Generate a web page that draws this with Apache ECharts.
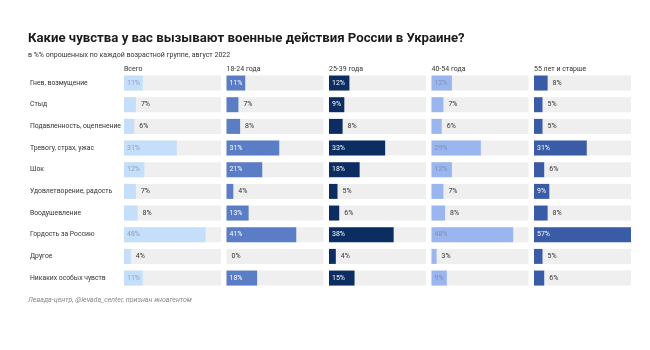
<!DOCTYPE html>
<html><head><meta charset="utf-8">
<script src="https://cdn.jsdelivr.net/npm/echarts@6/dist/echarts.min.js"></script>
<style>html,body{margin:0;padding:0;background:#fff}#c{width:650px;height:350px}</style>
</head><body><div id="c"></div>
<script>
const categories = ['Гнев, возмущение','Стыд','Подавленность, оцепенение','Тревогу, страх, ужас','Шок','Удовлетворение, радость','Воодушевление','Гордость за Россию','Другое','Никаких особых чувств'];
const groups = ['Всего','18-24 года','25-39 года','40-54 года','55 лет и старше'];
const vAll   = [11,7,6,31,12,7,8,48,4,11];
const v18_24 = [11,7,8,31,21,4,13,41,0,18];
const v25_39 = [12,9,8,33,18,5,6,38,4,15];
const v40_54 = [12,7,6,29,12,7,8,48,3,9];
const v55    = [8,5,5,31,6,9,8,57,5,6];
const seriesValues = [vAll, v18_24, v25_39, v40_54, v55];
const colors = ['#c5dffa','#5a7dc6','#0b2d62','#9bb5ee','#3a5ba6'];
const insideText = ['#8aa0bf','#ffffff','#ffffff','#7a91bb','#ffffff'];
const maxVal = 57;

const font = 'Roboto, "Liberation Sans", sans-serif';
const gLefts = [124, 226.5, 329, 431.5, 534];
const gWidth = 97;
const gTop = 72.2, gHeight = 216.7;

const grids = [], xAxes = [], yAxes = [], series = [];
const titles = [
  {text:'Какие чувства у вас вызывают военные действия России в Украине?', left:23, top:27,
   textStyle:{fontFamily:font, fontSize:13.2, fontWeight:'bold', color:'#1a1a1a'}},
  {text:'в %% опрошенных по каждой возрастной группе, август 2022', left:23, top:47,
   textStyle:{fontFamily:font, fontSize:7, fontWeight:'normal', color:'#333'}},
  {text:'Левада-центр, @levada_center, признан иноагентом', left:23, top:292,
   textStyle:{fontFamily:font, fontSize:7, fontStyle:'italic', fontWeight:'normal', color:'#888'}}
];
groups.forEach((g,i)=>{
  grids.push({left:gLefts[i], top:gTop, width:gWidth, height:gHeight});
  xAxes.push({type:'value', gridIndex:i, min:0, max:maxVal, show:false});
  yAxes.push({type:'category', gridIndex:i, data:categories, inverse:true,
    axisLine:{show:false}, axisTick:{show:false}, splitLine:{show:false},
    axisLabel:{show:i===0, align:'left', margin:94, width:120, overflow:'none', fontFamily:font, fontSize:6.8, color:'#333'}});
  titles.push({text:g, left:gLefts[i]-5, top:60.5, textStyle:{fontFamily:font, fontSize:7, fontWeight:'normal', color:'#333'}});
  series.push({type:'bar', xAxisIndex:i, yAxisIndex:i, barWidth:15,
    showBackground:true, backgroundStyle:{color:'#efefef'},
    itemStyle:{color:colors[i]},
    data: seriesValues[i].map(v=>({value:v, label: v>=9
      ? {show:true, position:'insideLeft', distance:3, color:insideText[i], fontFamily:font, fontSize:7, formatter:'{c}%'}
      : {show:true, position:'right', distance:5, color:'#333', fontFamily:font, fontSize:7, formatter:'{c}%'}}))
  });
});
const chart = echarts.init(document.getElementById('c'), null, {renderer:'canvas'});
chart.setOption({animation:false, backgroundColor:'#fff', title:titles, grid:grids, xAxis:xAxes, yAxis:yAxes, series:series});
</script></body></html>
